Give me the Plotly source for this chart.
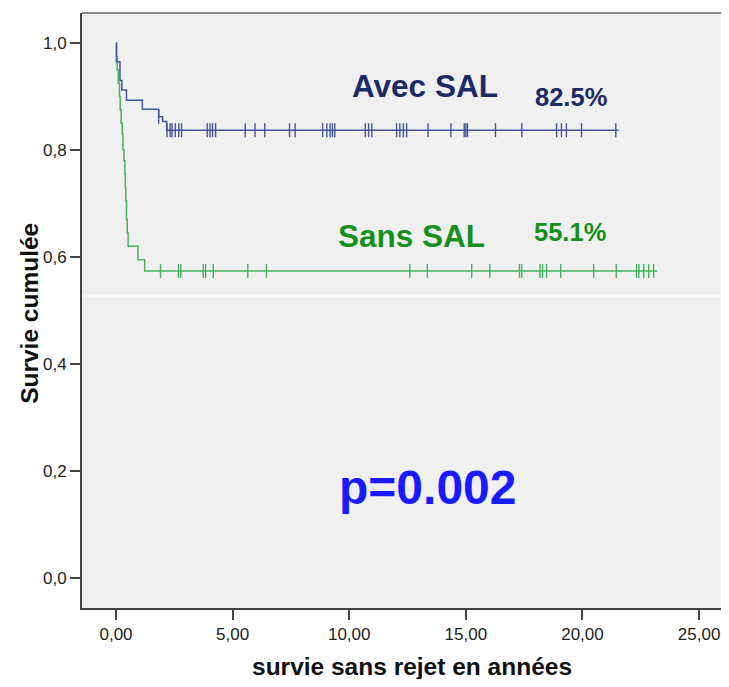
import plotly.graph_objects as go

# ---- data (years, cumulative survival) ----
avec_event_t = [0.0, 0.02, 0.17, 0.25, 0.45, 1.13, 1.83, 2.00, 2.17, 21.55]
avec_event_s = [1.0, 0.965, 0.930, 0.912, 0.893, 0.876, 0.862, 0.853, 0.837, 0.837]
avec_censor_t = [1.83, 2.19, 2.32, 2.40, 2.54, 2.69, 2.81, 3.91, 4.03, 4.14, 4.27,
                 5.54, 5.96, 6.38, 7.44, 7.68, 8.86, 9.04, 9.18, 9.28, 9.38,
                 10.69, 10.83, 10.97, 12.03, 12.17, 12.32, 12.46, 13.38, 14.36,
                 14.93, 15.00, 15.07, 16.27, 17.40, 18.89, 19.10, 19.31, 19.96, 21.43]

sans_event_t = [0.0, 0.02, 0.05, 0.10, 0.15, 0.18, 0.22, 0.27, 0.30, 0.34, 0.38,
                0.40, 0.42, 0.45, 0.48, 0.52, 0.94, 1.23, 23.20]
sans_event_s = [1.0, 0.975, 0.950, 0.925, 0.900, 0.875, 0.850, 0.830, 0.800, 0.780,
                0.755, 0.730, 0.705, 0.670, 0.645, 0.620, 0.595, 0.574, 0.574]
sans_censor_t = [1.91, 2.68, 2.78, 3.74, 3.84, 4.17, 5.65, 6.45, 12.60, 13.35,
                 15.25, 16.03, 17.30, 17.40, 18.18, 18.29, 18.46, 19.07, 20.48,
                 21.45, 22.32, 22.42, 22.63, 22.84, 23.05]

x_ticks = [0, 5, 10, 15, 20, 25]
x_tick_labels = ["0,00", "5,00", "10,00", "15,00", "20,00", "25,00"]
y_ticks = [0.0, 0.2, 0.4, 0.6, 0.8, 1.0]
y_tick_labels = ["0,0", "0,2", "0,4", "0,6", "0,8", "1,0"]

BLUE = "#45559a"
GREEN = "#45b25e"


def surv_at(t, ts, ss):
    val = ss[0]
    for ti, si in zip(ts, ss):
        if ti <= t:
            val = si
    return val


fig = go.Figure()

fig.add_trace(go.Scatter(x=sans_event_t, y=sans_event_s, mode="lines",
                         line=dict(color=GREEN, width=1.5, shape="hv"),
                         hoverinfo="skip", showlegend=False))
fig.add_trace(go.Scatter(x=sans_censor_t,
                         y=[surv_at(t, sans_event_t, sans_event_s) for t in sans_censor_t],
                         mode="markers",
                         marker=dict(symbol="line-ns-open", size=10, color=GREEN,
                                     line=dict(color=GREEN, width=1.4)),
                         showlegend=False))
fig.add_trace(go.Scatter(x=avec_event_t, y=avec_event_s, mode="lines",
                         line=dict(color=BLUE, width=1.5, shape="hv"),
                         hoverinfo="skip", showlegend=False))
fig.add_trace(go.Scatter(x=avec_censor_t,
                         y=[surv_at(t, avec_event_t, avec_event_s) for t in avec_censor_t],
                         mode="markers",
                         marker=dict(symbol="line-ns-open", size=10, color=BLUE,
                                     line=dict(color=BLUE, width=1.4)),
                         showlegend=False))

FONT = "Liberation Sans, Arial, sans-serif"

annotations = [
    dict(x=13.25, y=0.92, text="<b>Avec SAL</b>", font=dict(size=31.5, color="#1c2a66")),
    dict(x=19.51, y=0.899, text="<b>82.5%</b>", font=dict(size=25.5, color="#1c2a66")),
    dict(x=12.69, y=0.639, text="<b>Sans SAL</b>", font=dict(size=31.5, color="#16901c")),
    dict(x=19.47, y=0.647, text="<b>55.1%</b>", font=dict(size=25.5, color="#16901c")),
    dict(x=13.34, y=0.170, text="<b>p=0.002</b>", font=dict(size=48, color="#1a1aff")),
]
for a in annotations:
    a.update(xref="x", yref="y", showarrow=False, xanchor="center", yanchor="middle")
    a["font"]["family"] = FONT

annotations.append(dict(xref="paper", yref="paper", x=-0.0814, y=0.496,
                        text="<b>Survie cumulée</b>", textangle=-90, showarrow=False,
                        xanchor="center", yanchor="middle",
                        font=dict(family=FONT, size=24.5, color="#111111")))
annotations.append(dict(xref="paper", yref="paper", x=0.516, y=-0.099,
                        text="<b>survie sans rejet en années</b>", showarrow=False,
                        xanchor="center", yanchor="middle",
                        font=dict(family=FONT, size=24.5, color="#111111")))

fig.update_layout(
    width=713, height=671,
    margin=dict(l=74, r=0, t=5, b=71),
    paper_bgcolor="white",
    plot_bgcolor="#f0f0f0",
    font=dict(family=FONT, size=17, color="#222222"),
    annotations=annotations,
    shapes=[
        dict(type="line", xref="paper", yref="paper", x0=0, x1=1, y0=1, y1=1,
             line=dict(color="#8a8a8a", width=2)),
        dict(type="line", xref="paper", yref="y", x0=0, x1=1, y0=0.527, y1=0.527,
             line=dict(color="white", width=1)),
    ],
    xaxis=dict(range=[-1.458, 25.94], tickvals=x_ticks, ticktext=x_tick_labels,
               showgrid=False, zeroline=False, showline=True, linecolor="#444444",
               linewidth=2, ticks="outside", ticklen=10, tickwidth=2,
               tickcolor="#444444", tickfont=dict(size=17, color="#222222")),
    yaxis=dict(range=[-0.056, 1.056], tickvals=y_ticks, ticktext=y_tick_labels,
               showgrid=False, zeroline=False, showline=True, linecolor="#444444",
               linewidth=2, ticks="outside", ticklen=10, tickwidth=1.5,
               tickcolor="#444444", tickfont=dict(size=17, color="#222222")),
)

fig.write_html("out.html")
